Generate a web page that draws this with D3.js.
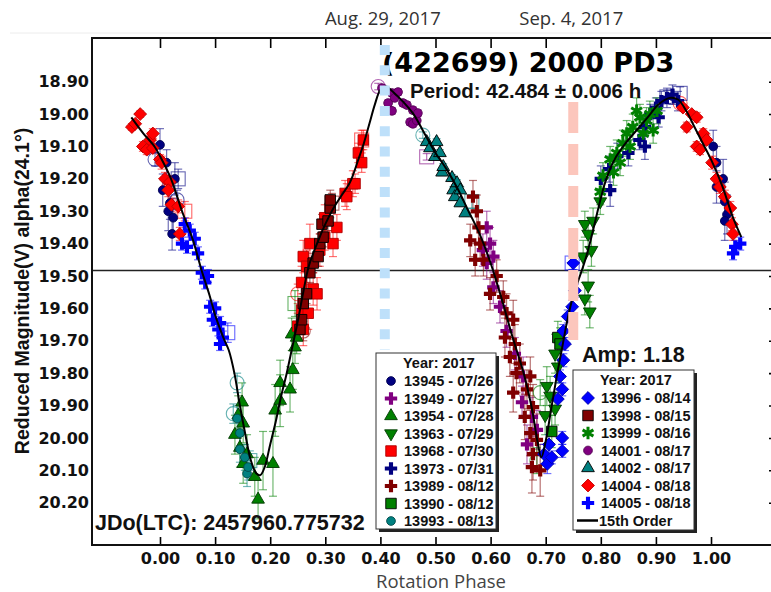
<!DOCTYPE html>
<html>
<head>
<meta charset="utf-8">
<script src="https://d3js.org/d3.v7.min.js"></script>
<style>
  body { margin: 0; background: #fff; }
  svg { display: block; }
</style>
</head>
<body>
<div id="chart"></div>
<script>

// ---- data: [phase, reduced mag, error] ----
var s13945 = [[0.000,19.095,0.05],[0.005,19.235,0.05],[0.012,19.15,0.04],[0.015,19.30,0.06],[0.018,19.275,0.05],[0.022,19.37,0.05],[0.024,19.32,0.06],[0.027,19.20,0.05],
  [1.004,19.10,0.05],[1.010,19.15,0.05],[1.010,19.225,0.05],[1.022,19.20,0.06],[1.025,19.27,0.06],[1.029,19.31,0.06],[1.025,19.33,0.06]];
var s13949 = [[0.586,19.42,0.05],[0.593,19.35,0.05],[0.593,19.46,0.05],[0.599,19.40,0.05],[0.605,19.44,0.05],[0.605,19.535,0.05],[0.617,19.595,0.05],
  [0.629,19.67,0.05],[0.644,19.74,0.05],[0.657,19.89,0.05],[0.659,19.81,0.06],[0.666,20.02,0.06],[0.675,19.935,0.06],[0.684,19.975,0.06]];
var s13954 = [[0.136,19.99,0.06],[0.142,19.93,0.06],[0.145,20.03,0.06],[0.149,19.89,0.06],[0.151,19.955,0.06],[0.151,20.08,0.06],[0.158,20.05,0.06],
  [0.172,20.12,0.06],[0.178,20.19,0.06],[0.187,20.07,0.09],[0.205,20.08,0.10],[0.209,19.915,0.08],[0.218,19.885,0.08],[0.218,19.83,0.07],
  [0.236,19.85,0.07],[0.241,19.79,0.06],[0.239,19.68,0.05],[0.245,19.72,0.05],[0.248,19.69,0.05]];
var s13963 = [[0.699,19.93,0.06],[0.702,19.84,0.06],[0.708,19.87,0.06],[0.717,19.91,0.05],[0.717,19.74,0.06],[0.722,19.78,0.05],[0.768,19.44,0.05],
  [0.771,19.57,0.05],[0.777,19.53,0.05],[0.780,19.61,0.05],[0.771,19.34,0.04],[0.777,19.37,0.04],[0.786,19.33,0.04],[0.783,19.42,0.05],[0.799,19.27,0.04]];
var s13968 = [[0.250,19.655,0.04],[0.257,19.52,0.05],[0.257,19.605,0.05],[0.260,19.44,0.05],[0.260,19.665,0.05],[0.266,19.47,0.05],[0.269,19.615,0.05],
  [0.272,19.40,0.06],[0.278,19.54,0.05],[0.285,19.555,0.05],[0.290,19.42,0.05],[0.299,19.38,0.04],[0.299,19.32,0.04],[0.314,19.40,0.04],
  [0.321,19.35,0.04],[0.336,19.245,0.04],[0.339,19.255,0.04],[0.350,19.215,0.04],[0.354,19.215,0.03],[0.360,19.12,0.03],[0.366,19.15,0.03],[0.369,19.08,0.03]];
var s13973 = [[0.800,19.20,0.04],[0.815,19.17,0.04],[0.817,19.235,0.05],[0.830,19.13,0.04],[0.850,19.12,0.04],[0.870,19.08,0.03],[0.880,19.04,0.03],
  [0.880,19.10,0.04],[0.890,19.00,0.03],[0.900,18.98,0.03],[0.905,19.01,0.03],[0.910,18.96,0.03],[0.920,18.95,0.03],[0.930,18.94,0.03],[0.940,18.96,0.03]];
var s13989 = [[0.563,19.39,0.05],[0.568,19.255,0.05],[0.572,19.45,0.05],[0.575,19.30,0.05],[0.578,19.35,0.05],[0.581,19.40,0.05],[0.587,19.45,0.05],
  [0.599,19.555,0.05],[0.611,19.50,0.05],[0.623,19.565,0.05],[0.626,19.69,0.06],[0.629,19.615,0.06],[0.635,19.75,0.06],[0.641,19.635,0.06],
  [0.641,19.86,0.06],[0.644,19.71,0.06],[0.647,19.80,0.06],[0.653,19.77,0.06],[0.662,19.935,0.07],[0.666,19.85,0.06],[0.672,19.81,0.06],
  [0.672,19.985,0.07],[0.677,19.905,0.07],[0.677,20.05,0.08],[0.675,20.09,0.08],[0.684,20.006,0.08],[0.690,20.10,0.08]];
var s13990 = [[0.711,19.98,0.05],[0.722,19.69,0.05],[0.726,19.71,0.05]];
var s13993 = [[0.140,19.94,0.04],[0.145,19.985,0.04],[0.145,20.035,0.04],[0.154,20.06,0.04],[0.158,20.11,0.04],[0.160,20.09,0.04]];
var s13996 = [[0.697,20.05,0.03],[0.703,20.08,0.03],[0.706,20.02,0.03],[0.711,20.06,0.02],[0.722,19.88,0.02],[0.726,19.81,0.02],[0.730,20.00,0.02],
  [0.730,20.04,0.02],[0.730,19.85,0.02],[0.732,19.76,0.02],[0.732,19.67,0.02],[0.735,19.71,0.02],[0.740,19.625,0.02],[0.748,19.595,0.02],
  [0.753,19.545,0.02],[0.750,19.46,0.02]];
var s13998 = [[0.254,19.665,0.03],[0.257,19.635,0.03],[0.260,19.585,0.03],[0.266,19.555,0.03],[0.272,19.49,0.03],[0.278,19.46,0.03],[0.287,19.44,0.03],
  [0.290,19.40,0.03],[0.294,19.34,0.03],[0.296,19.38,0.03],[0.305,19.33,0.03],[0.309,19.29,0.03],[0.309,19.265,0.03]];
var s13999 = [[0.799,19.24,0.04],[0.804,19.19,0.04],[0.817,19.14,0.04],[0.823,19.18,0.04],[0.829,19.12,0.04],[0.835,19.15,0.04],[0.840,19.09,0.04],
  [0.847,19.06,0.04],[0.853,19.10,0.04],[0.858,19.04,0.04],[0.865,18.99,0.04],[0.871,19.01,0.04],[0.877,19.06,0.04],[0.883,19.02,0.04],
  [0.889,19.00,0.04],[0.895,19.05,0.04],[0.902,18.99,0.04]];
var s14001 = [[0.403,18.92,0.01],[0.414,18.966,0.01],[0.421,18.935,0.01],[0.421,18.99,0.01],[0.426,18.95,0.01],[0.432,18.932,0.01],[0.441,18.966,0.01],
  [0.448,18.972,0.01],[0.454,19.025,0.01],[0.459,18.988,0.01],[0.459,19.03,0.01],[0.466,19.02,0.01],[0.468,18.997,0.01]];
var s14002 = [[0.484,19.086,0.01],[0.490,19.105,0.01],[0.499,19.132,0.01],[0.502,19.086,0.01],[0.508,19.12,0.01],[0.512,19.18,0.01],[0.514,19.163,0.01],
  [0.530,19.197,0.01],[0.532,19.235,0.01],[0.535,19.256,0.01],[0.539,19.213,0.01],[0.545,19.235,0.01],[0.545,19.275,0.01],[0.554,19.306,0.01]];
var s14004 = [[-0.051,19.04,0.01],[-0.045,19.03,0.01],[-0.036,19.00,0.01],[-0.031,19.10,0.015],[-0.024,19.11,0.015],[-0.018,19.08,0.015],
  [-0.013,19.06,0.015],[-0.013,19.105,0.015],[0.000,19.14,0.015],[0.003,19.15,0.02],[0.009,19.20,0.02],[0.018,19.21,0.02],[0.015,19.235,0.02],
  [0.021,19.28,0.02],[0.033,19.285,0.02],[0.036,19.37,0.02],
  [0.949,18.98,0.01],[0.956,19.04,0.015],[0.965,19.00,0.01],[0.974,19.01,0.015],[0.974,19.10,0.015],[0.980,19.11,0.015],[0.986,19.06,0.015],
  [0.992,19.08,0.015],[1.002,19.15,0.02],[1.010,19.20,0.02],[1.016,19.225,0.02],[1.025,19.255,0.02],[1.035,19.29,0.02],[1.038,19.34,0.02],[1.040,19.37,0.02]];
var s14005 = [[0.040,19.40,0.02],[0.045,19.34,0.02],[0.049,19.41,0.02],[0.054,19.36,0.02],[0.063,19.385,0.02],[0.069,19.43,0.02],[0.076,19.49,0.02],
  [0.082,19.52,0.02],[0.087,19.50,0.02],[0.091,19.595,0.02],[0.096,19.635,0.02],[0.100,19.60,0.02],[0.106,19.665,0.02],[0.109,19.645,0.02],
  [0.109,19.71,0.02],[0.114,19.69,0.02],[1.040,19.43,0.02],[1.044,19.41,0.02],[1.053,19.40,0.02]];

// hollow points: [phase, mag, error, session]
var openCircles = [[-0.009,19.14,0.02,"13945"],[0.031,19.265,0.03,"13945"],[0.140,19.83,0.03,"13993"],[0.133,19.925,0.03,"13993"],
  [0.250,19.555,0.03,"13968"],[0.260,19.67,0.03,"13998"],[0.396,18.915,0.01,"14001"],[0.477,19.065,0.01,"14002"],
  [0.690,19.86,0.04,"13963"],[0.684,20.07,0.04,"13963"],[0.944,18.967,0.01,"14004"]];
var openSquares = [[0.033,19.20,0.03,"13945"],[0.045,19.30,0.03,"13968"],[0.123,19.675,0.03,"14005"],[0.163,20.07,0.03,"13993"],
  [0.245,19.585,0.04,"13954"],[0.312,19.275,0.03,"13998"],[0.366,19.08,0.03,"13968"],[0.484,19.132,0.01,"14001"],
  [0.566,19.27,0.02,"14002"],[0.748,19.46,0.02,"13996"],[0.920,18.947,0.02,"13973"],[0.944,18.936,0.02,"13973"]];

// 15th order fit
var fitPhase = [-0.052,-0.03,-0.01,0.00,0.02,0.04,0.06,0.075,0.09,0.10,0.115,0.125,0.135,0.145,0.155,0.165,0.175,0.182,0.19,0.20,
  0.21,0.22,0.23,0.24,0.25,0.26,0.27,0.285,0.30,0.315,0.33,0.345,0.36,0.37,0.38,0.39,0.40,0.41,0.425,0.44,0.46,0.48,0.50,0.52,0.54,
  0.56,0.58,0.60,0.62,0.64,0.66,0.675,0.685,0.692,0.70,0.71,0.72,0.73,0.74,0.75,0.76,0.77,0.78,0.79,0.80,0.81,0.825,0.845,0.865,
  0.885,0.905,0.925,0.94,0.955,0.97,0.985,1.00,1.02,1.04,1.055];
var fitMag = [19.01,19.06,19.10,19.13,19.20,19.30,19.39,19.48,19.56,19.62,19.69,19.73,19.80,19.90,19.99,20.07,20.11,20.115,20.09,20.02,
  19.95,19.87,19.80,19.72,19.64,19.55,19.47,19.40,19.34,19.29,19.25,19.21,19.14,19.09,19.03,18.97,18.925,18.915,18.935,18.96,19.00,
  19.06,19.12,19.17,19.23,19.30,19.37,19.46,19.57,19.69,19.80,19.91,20.01,20.06,20.01,19.91,19.81,19.72,19.63,19.56,19.51,19.46,
  19.40,19.33,19.26,19.20,19.14,19.09,19.05,19.01,18.97,18.95,18.955,18.99,19.04,19.09,19.14,19.22,19.32,19.38];

var sessionIds = ["13945","13949","13954","13963","13968","13973","13989","13990","13993","13996","13998","13999","14001","14002","14004","14005"];
var sessionDates = ["07/26","07/27","07/28","07/29","07/30","07/31","08/12","08/12","08/13","08/14","08/15","08/16","08/17","08/17","08/18","08/18"];
var sessionData = [s13945,s13949,s13954,s13963,s13968,s13973,s13989,s13990,s13993,s13996,s13998,s13999,s14001,s14002,s14004,s14005];

var xTicks = [0.0,0.1,0.2,0.3,0.4,0.5,0.6,0.7,0.8,0.9,1.0];
var yTicks = [18.9,19.0,19.1,19.2,19.3,19.4,19.5,19.6,19.7,19.8,19.9,20.0,20.1,20.2];
var zeroLine = 19.483;
var dateLabels = ["Aug. 29, 2017","Sep. 4, 2017"];
var datePhases = [0.408,0.75];

// ---- styles ----
var style = {
  "13945": {shape:"circle",  fill:"#000080", stroke:"#000050"},
  "13949": {shape:"plus",    fill:"#800080"},
  "13954": {shape:"triUp",   fill:"#008000", stroke:"#003800"},
  "13963": {shape:"triDown", fill:"#008000", stroke:"#003800"},
  "13968": {shape:"square",  fill:"#ff0000", stroke:"#b00000"},
  "13973": {shape:"plus",    fill:"#000080"},
  "13989": {shape:"plus",    fill:"#800000"},
  "13990": {shape:"square",  fill:"#008000", stroke:"#000"},
  "13993": {shape:"circle",  fill:"#008080", stroke:"#004848"},
  "13996": {shape:"diamond", fill:"#0000ff", stroke:"#0000b0"},
  "13998": {shape:"square",  fill:"#800000", stroke:"#000"},
  "13999": {shape:"star",    fill:"#008000"},
  "14001": {shape:"circle",  fill:"#800080", stroke:"#500050"},
  "14002": {shape:"triUp",   fill:"#008080", stroke:"#000"},
  "14004": {shape:"diamond", fill:"#ff0000", stroke:"#c00000"},
  "14005": {shape:"plus",    fill:"#0000ff"}
};

var W = 771, H = 592;
var plot = {left: 92, top: 38, right: 773, bottom: 545};

var svg = d3.select("#chart").append("svg")
  .attr("width", W).attr("height", H);

var x = d3.scaleLinear().domain([-0.1234, 1.1125]).range([plot.left, plot.right]);
var y = d3.scaleLinear().domain([18.7651, 20.3306]).range([plot.top, plot.bottom]);

var bold = "'Liberation Sans', Arial, sans-serif";

// faint page line
svg.append("line").attr("x1", 10).attr("x2", W).attr("y1", 33).attr("y2", 33)
  .style("stroke", "#ececec").style("stroke-width", 1);

// date labels on top
dateLabels.forEach(function(t, i) {
  svg.append("text")
    .attr("x", x(datePhases[i]) - 2).attr("y", 25)
    .attr("text-anchor", "middle")
    .style("font-family", "'Open Sans', sans-serif")
    .style("font-size", "18.5px")
    .style("fill", "#333")
    .text(t);
});

// horizontal reference line
svg.append("line")
  .attr("x1", plot.left).attr("x2", plot.right)
  .attr("y1", y(zeroLine)).attr("y2", y(zeroLine))
  .style("stroke", "#222").style("stroke-width", 1.5);

function symPath(shape, size) {
  var t = d3.symbolCircle;
  if (shape == "plus") t = d3.symbolCross;
  else if (shape == "triUp" || shape == "triDown") t = d3.symbolTriangle;
  else if (shape == "square" || shape == "diamond") t = d3.symbolSquare;
  else if (shape == "star") t = d3.symbolAsterisk || d3.symbolCross;
  return d3.symbol().type(t).size(size)();
}
var sizes = {circle: 60, plus: 85, triUp: 70, triDown: 70, square: 110, diamond: 82, star: 110};

function drawMark(g, st, px, py, scale) {
  var s = sizes[st.shape] * (scale || 1);
  var rot = st.shape == "triDown" ? 180 : (st.shape == "diamond" ? 45 : 0);
  var p = g.append("path")
    .attr("d", symPath(st.shape, s))
    .attr("transform", "translate(" + px + "," + py + ") rotate(" + rot + ")");
  if (st.shape == "star") {
    p.style("fill", "none").style("stroke", st.fill).style("stroke-width", 3);
  } else if (st.shape == "plus") {
    p.style("fill", st.fill);
  } else {
    p.style("fill", st.fill).style("stroke", st.stroke || st.fill).style("stroke-width", 0.9);
  }
  return p;
}

function errBar(g, color, p, m, e) {
  var px = x(p), y1 = y(m - e), y2 = y(m + e);
  g.append("line").attr("x1", px).attr("x2", px).attr("y1", y1).attr("y2", y2)
    .style("stroke", color).style("stroke-width", 1.2).style("opacity", 0.55);
  [y1, y2].forEach(function(yy) {
    g.append("line").attr("x1", px - 4).attr("x2", px + 4).attr("y1", yy).attr("y2", yy)
      .style("stroke", color).style("stroke-width", 1.2).style("opacity", 0.55);
  });
}

var dataG = svg.append("g");
var errG = dataG.append("g");
var markG = dataG.append("g");

sessionIds.forEach(function(id, i) {
  var st = style[id];
  sessionData[i].forEach(function(d) {
    errBar(errG, st.fill, d[0], d[1], d[2]);
  });
});

// hollow points
openCircles.forEach(function(d) {
  var c = style[d[3]].fill;
  errBar(errG, c, d[0], d[1], d[2]);
  markG.append("circle").attr("cx", x(d[0])).attr("cy", y(d[1])).attr("r", 7)
    .style("fill", "none").style("stroke", c).style("stroke-width", 1.1).style("opacity", 0.6);
});
openSquares.forEach(function(d) {
  var c = style[d[3]].fill;
  errBar(errG, c, d[0], d[1], d[2]);
  markG.append("rect").attr("x", x(d[0]) - 7).attr("y", y(d[1]) - 7).attr("width", 14).attr("height", 14)
    .style("fill", "none").style("stroke", c).style("stroke-width", 1.1).style("opacity", 0.6);
});

sessionIds.forEach(function(id, i) {
  var st = style[id];
  sessionData[i].forEach(function(d) {
    drawMark(markG, st, x(d[0]), y(d[1]));
  });
});

// fit curve
var fit = fitPhase.map(function(p, i) { return [p, fitMag[i]]; });
svg.append("path")
  .datum(fit)
  .attr("d", d3.line().x(function(d) { return x(d[0]); }).y(function(d) { return y(d[1]); }).curve(d3.curveCatmullRom))
  .style("fill", "none").style("stroke", "#000").style("stroke-width", 2);

// axes
var fmt = d3.format(".2f");
var gB = svg.append("g").attr("transform", "translate(0," + plot.bottom + ")")
  .call(d3.axisBottom(x).tickValues(xTicks).tickFormat(fmt).tickSizeInner(-8).tickSizeOuter(0).tickPadding(8));
var gT = svg.append("g").attr("transform", "translate(0," + plot.top + ")")
  .call(d3.axisTop(x).tickValues(xTicks).tickFormat("").tickSizeInner(-10).tickSizeOuter(0));
var gL = svg.append("g").attr("transform", "translate(" + plot.left + ",0)")
  .call(d3.axisLeft(y).tickValues(yTicks).tickFormat(fmt).tickSize(0).tickPadding(3));
var gR = svg.append("g").attr("transform", "translate(" + plot.right + ",0)")
  .call(d3.axisRight(y).tickValues(yTicks).tickFormat("").tickSizeInner(-4).tickSizeOuter(0));
[gB, gT, gL, gR].forEach(function(g) {
  g.select(".domain").remove();
  g.selectAll("line").style("stroke", "#000").style("stroke-width", 1.6);
  g.selectAll("text")
    .style("font-family", "'DejaVu Sans', sans-serif")
    .style("font-weight", "bold")
    .style("font-size", "16px")
    .style("fill", "#111");
});

svg.append("rect")
  .attr("x", plot.left).attr("y", plot.top)
  .attr("width", plot.right - plot.left).attr("height", plot.bottom - plot.top)
  .style("fill", "none").style("stroke", "#111").style("stroke-width", 2);

// axis titles
svg.append("text")
  .attr("x", 441).attr("y", 588)
  .attr("text-anchor", "middle")
  .style("font-family", "'Open Sans', sans-serif")
  .style("font-size", "18.5px")
  .style("fill", "#444")
  .text("Rotation Phase");

svg.append("text")
  .attr("transform", "translate(29,291) rotate(-90)")
  .attr("text-anchor", "middle")
  .style("font-family", bold).style("font-weight", "bold")
  .style("font-size", "19.5px")
  .style("fill", "#111")
  .text("Reduced Magnitude(V) alpha(24.1°)");

// annotations
svg.append("text")
  .attr("x", 382).attr("y", 72)
  .style("font-family", "'DejaVu Sans', sans-serif").style("font-weight", "bold")
  .style("font-size", "27px").style("fill", "#000")
  .text("(422699) 2000 PD3");
svg.append("text")
  .attr("x", 410).attr("y", 98)
  .style("font-family", bold).style("font-weight", "bold")
  .style("font-size", "20.5px").style("fill", "#111")
  .text("Period: 42.484 ± 0.006 h");
svg.append("text")
  .attr("x", 582).attr("y", 362)
  .style("font-family", bold).style("font-weight", "bold")
  .style("font-size", "21.5px").style("fill", "#111")
  .text("Amp: 1.18");
svg.append("text")
  .attr("x", 95).attr("y", 530)
  .style("font-family", bold).style("font-weight", "bold")
  .style("font-size", "21.5px").style("fill", "#111")
  .text("JDo(LTC): 2457960.775732");

// date marker lines
svg.append("line")
  .attr("x1", x(datePhases[0])).attr("x2", x(datePhases[0]))
  .attr("y1", 45).attr("y2", 350)
  .style("stroke", "#bee0fa").style("stroke-width", 10)
  .style("stroke-dasharray", "10,10.3");
svg.append("line")
  .attr("x1", x(datePhases[1])).attr("x2", x(datePhases[1]))
  .attr("y1", 102).attr("y2", 340)
  .style("stroke", "#fcc6bc").style("stroke-width", 10)
  .style("stroke-dasharray", "31,11");

// legends
function legend(bx, by, bw, bh, items, showFit) {
  var g = svg.append("g");
  g.append("rect").attr("x", bx + 3).attr("y", by + 3).attr("width", bw).attr("height", bh)
    .style("fill", "#222");
  g.append("rect").attr("x", bx).attr("y", by).attr("width", bw).attr("height", bh)
    .style("fill", "#fff").style("stroke", "#333").style("stroke-width", 1);
  g.append("text").attr("x", bx + 27).attr("y", by + 15)
    .style("font-family", bold).style("font-weight", "bold").style("font-size", "14.5px")
    .style("fill", "#111").text("Year: 2017");
  items.forEach(function(i, k) {
    var cy = by + 28 + k * 17.5;
    drawMark(g, style[sessionIds[i]], bx + 15, cy, 1.0);
    g.append("text").attr("x", bx + 28).attr("y", cy + 5)
      .style("font-family", bold).style("font-weight", "bold").style("font-size", "14.5px")
      .style("fill", "#111").text(sessionIds[i] + " - " + sessionDates[i]);
  });
  if (showFit) {
    var cy = by + 28 + items.length * 17.5;
    g.append("line").attr("x1", bx + 4).attr("x2", bx + 25).attr("y1", cy).attr("y2", cy)
      .style("stroke", "#000").style("stroke-width", 2.5);
    g.append("text").attr("x", bx + 26).attr("y", cy + 5)
      .style("font-family", bold).style("font-weight", "bold").style("font-size", "14.5px")
      .style("fill", "#111").text("15th Order");
  }
}
legend(376, 353, 120, 176, [0,1,2,3,4,5,6,7,8], false);
legend(573, 370, 121, 160, [9,10,11,12,13,14,15], true);

</script>
</body>
</html>
